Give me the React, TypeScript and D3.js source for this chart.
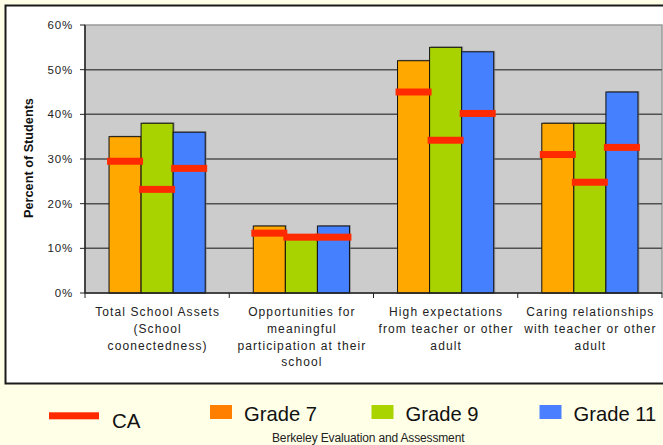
import React from "react";
import * as d3 from "d3";

const categories = [
  "Total School Assets",
  "Opportunities for meaningful participation",
  "High expectations",
  "Caring relationships",
];
const categoryLabelLines = [
  ["Total School Assets", "(School", "coonectedness)"],
  ["Opportunities for", "meaningful", "participation at their", "school"],
  ["High expectations", "from teacher or other", "adult"],
  ["Caring relationships", "with teacher or other", "adult"],
];
const seriesNames = ["Grade 7", "Grade 9", "Grade 11"];
const grade7 = [35, 15, 52, 38];
const grade9 = [38, 13, 55, 38];
const grade11 = [36, 15, 54, 45];
const caGrade7 = [29.5, 13.4, 45, 31];
const caGrade9 = [23.2, 12.5, 34.2, 24.8];
const caGrade11 = [27.9, 12.5, 40.2, 32.6];
const yTicks = [0, 10, 20, 30, 40, 50, 60];
const barColors = ["#FFA800", "#A8D300", "#4580FF"];
const legendColors = ["#FF8000", "#AAD400", "#4A80FF"];
const caColor = "#FF2A00";
const footnote = "Berkeley Evaluation and Assessment";

const FONT = "'Liberation Sans', Arial, sans-serif";

export default function App() {
  const W = 663;
  const H = 445;
  const plotLeft = 85;
  const plotRight = 662;
  const plotTop = 25;
  const plotBottom = 293;

  const values = [grade7, grade9, grade11];
  const caValues = [caGrade7, caGrade9, caGrade11];

  const y = d3.scaleLinear().domain([0, 60]).range([plotBottom, plotTop]);
  const x0 = d3.scaleBand<string>().domain(categories).range([plotLeft, plotRight]).padding(0);
  const x1 = d3
    .scaleBand<string>()
    .domain(seriesNames)
    .range([0, x0.bandwidth()])
    .paddingInner(0)
    .paddingOuter(0.75);

  const caWidth = 36;
  const caThick = 7;

  return (
    <svg
      width={W}
      height={H}
      style={{ position: "fixed", left: 0, top: 0, display: "block" }}
      fontFamily={FONT}
    >
      <rect x={0} y={0} width={W} height={H} fill="#FFFFE8" />
      <rect x={5.5} y={5.5} width={720} height={378} fill="#FFFFFF" stroke="#1a1a1a" strokeWidth={2} />

      {/* plot area */}
      <rect x={plotLeft} y={plotTop} width={plotRight - plotLeft} height={plotBottom - plotTop} fill="#CCCCCC" stroke="#9a9a9a" strokeWidth={1.5} />

      {/* gridlines */}
      {yTicks.filter((t) => t > 0 && t < 60).map((t) => (
        <line key={"g" + t} x1={plotLeft} x2={plotRight} y1={y(t)} y2={y(t)} stroke="#505050" strokeWidth={1.5} />
      ))}

      {/* y ticks and labels */}
      {yTicks.map((t) => (
        <g key={"t" + t}>
          <line x1={80} x2={plotLeft} y1={y(t)} y2={y(t)} stroke="#222" strokeWidth={1} />
          <text x={73} y={y(t) + 4} textAnchor="end" fontSize={11.5} letterSpacing={0.8} fill="#222">
            {t + "%"}
          </text>
        </g>
      ))}

      {/* bars */}
      {categories.map((c, ci) => (
        <g key={"c" + ci}>
          {seriesNames.map((s, si) => {
            const bx = (x0(c) as number) + (x1(s) as number);
            const by = y(values[si][ci]);
            return (
              <g key={s}>
                <rect x={bx + 1.5} y={by - 1} width={x1.bandwidth()} height={plotBottom - by + 1} fill="#7a7a7a" opacity={0.6} />
                <rect x={bx} y={by} width={x1.bandwidth()} height={plotBottom - by} fill={barColors[si]} stroke="#111" strokeWidth={1} />
              </g>
            );
          })}
        </g>
      ))}

      {/* CA markers */}
      {categories.map((c, ci) => (
        <g key={"ca" + ci}>
          {seriesNames.map((s, si) => {
            const cx = (x0(c) as number) + (x1(s) as number) + x1.bandwidth() / 2;
            const cy = y(caValues[si][ci]);
            return <rect key={s} x={cx - caWidth / 2} y={cy - caThick / 2} width={caWidth} height={caThick} fill={caColor} />;
          })}
        </g>
      ))}

      {/* axes lines */}
      <line x1={plotLeft} x2={plotLeft} y1={plotTop} y2={plotBottom} stroke="#222" strokeWidth={1.5} />
      <line x1={plotLeft} x2={plotRight} y1={plotBottom} y2={plotBottom} stroke="#222" strokeWidth={1.5} />
      {categories.map((c, ci) => (
        <line key={"xt" + ci} x1={x0(c) as number} x2={x0(c) as number} y1={plotBottom} y2={plotBottom + 5} stroke="#222" strokeWidth={1} />
      ))}
      <line x1={plotRight} x2={plotRight} y1={plotBottom} y2={plotBottom + 5} stroke="#222" strokeWidth={1} />

      {/* category labels */}
      {categories.map((c, ci) => (
        <text key={"cl" + ci} x={(x0(c) as number) + x0.bandwidth() / 2} y={316} textAnchor="middle" fontSize={12} letterSpacing={1.1} fill="#222">
          {categoryLabelLines[ci].map((ln, li) => (
            <tspan key={li} x={(x0(c) as number) + x0.bandwidth() / 2 + 0.5} dy={li === 0 ? 0 : 16.8}>
              {ln}
            </tspan>
          ))}
        </text>
      ))}

      {/* y axis title */}
      <text transform={`translate(33.3,158) rotate(-90)`} textAnchor="middle" fontSize={12.7} fontWeight="bold" fill="#111">
        Percent of Students
      </text>

      {/* legend */}
      <rect x={49} y={412.3} width={50} height={7} fill={caColor} />
      <text x={112} y={428} fontSize={20.5} fill="#111">CA</text>
      {seriesNames.map((s, si) => {
        const sx = [210, 371.5, 539.5][si];
        return (
          <g key={"lg" + s}>
            <rect x={sx} y={405} width={22} height={14} fill={legendColors[si]} />
            <text x={sx + 34} y={421} fontSize={20.2} fill="#111">{s}</text>
          </g>
        );
      })}

      <text x={272} y={442} fontSize={12} letterSpacing={-0.15} fill="#222">{footnote}</text>
    </svg>
  );
}
